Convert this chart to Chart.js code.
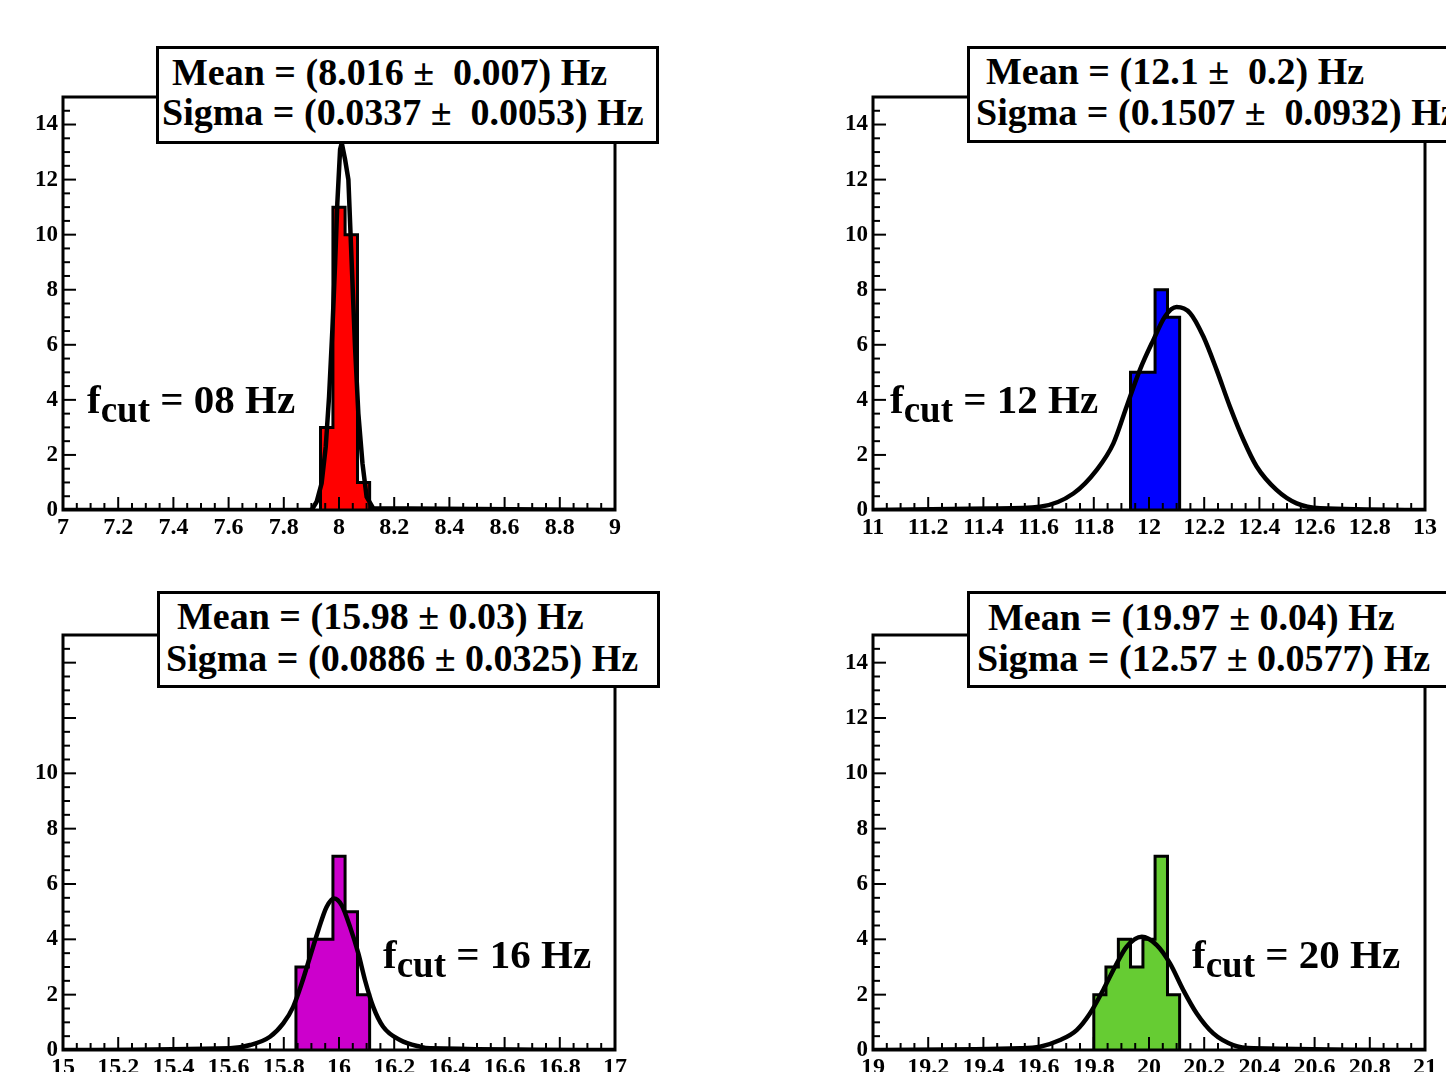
<!DOCTYPE html>
<html>
<head>
<meta charset="utf-8">
<script src="https://cdn.jsdelivr.net/npm/chart.js@4/dist/chart.umd.min.js"></script>
<style>
  body { margin: 0; width: 1446px; height: 1072px; overflow: hidden; background: #fff; position: relative; }
  canvas { position: absolute; }
  .caja { position: absolute; box-sizing: border-box; border: 3px solid #000; background: #fff; z-index: 1; }
  .texto { position: absolute; z-index: 2; white-space: pre; font-family: 'Liberation Serif', 'Times New Roman', serif; font-weight: bold; color: #000; }
  .stat { font-size: 38px; line-height: 38px; }
  .fcut { font-size: 41px; line-height: 41px; }
  .fcut .sub { font-size: 37px; position: relative; top: 9px; }
</style>
</head>
<body>

<canvas id="panel1" width="723" height="540" style="left:0px; top:0px;"></canvas>
<canvas id="panel2" width="636" height="540" style="left:810px; top:0px;"></canvas>
<canvas id="panel3" width="723" height="532" style="left:0px; top:540px;"></canvas>
<canvas id="panel4" width="636" height="532" style="left:810px; top:540px;"></canvas>

<div class="caja" style="left:156px; top:46px; width:503px; height:98px;"></div>
<div class="texto stat" style="left:172px; top:53px;">Mean = (8.016 ±  0.007) Hz</div>
<div class="texto stat" style="left:162px; top:93px;">Sigma = (0.0337 ±  0.0053) Hz</div>

<div class="caja" style="left:967px; top:46px; width:500px; height:97px;"></div>
<div class="texto stat" style="left:986px; top:52px;">Mean = (12.1 ±  0.2) Hz</div>
<div class="texto stat" style="left:976px; top:93px;">Sigma = (0.1507 ±  0.0932) Hz</div>

<div class="caja" style="left:157px; top:591px; width:503px; height:97px;"></div>
<div class="texto stat" style="left:177px; top:597px;">Mean = (15.98 ± 0.03) Hz</div>
<div class="texto stat" style="left:166px; top:639px;">Sigma = (0.0886 ± 0.0325) Hz</div>

<div class="caja" style="left:967px; top:591px; width:500px; height:97px;"></div>
<div class="texto stat" style="left:988px; top:598px;">Mean = (19.97 ± 0.04) Hz</div>
<div class="texto stat" style="left:977px; top:639px;">Sigma = (12.57 ± 0.0577) Hz</div>

<div class="texto fcut" style="left:87px; top:379px;">f<span class="sub">cut</span> = 08 Hz</div>
<div class="texto fcut" style="left:890px; top:379px;">f<span class="sub">cut</span> = 12 Hz</div>
<div class="texto fcut" style="left:383px; top:934px;">f<span class="sub">cut</span> = 16 Hz</div>
<div class="texto fcut" style="left:1192px; top:934px;">f<span class="sub">cut</span> = 20 Hz</div>

<script>
// histogram bins (edges) and counts
const bordes8 = [7.933, 7.978, 8.022, 8.067, 8.111];
const cuentas8 = [3, 11, 10, 1];
const bordes12 = [11.933, 11.978, 12.022, 12.067, 12.111];
const cuentas12 = [5, 5, 8, 7];
const bordes16 = [15.844, 15.889, 15.933, 15.978, 16.022, 16.067, 16.111];
const cuentas16 = [3, 4, 4, 7, 5, 2];
const bordes20 = [19.8, 19.844, 19.889, 19.933, 19.978, 20.022, 20.067, 20.111];
const cuentas20 = [2, 3, 4, 3, 4, 7, 2];

// gaussian fit curves
const ajusteX8 = [7.0, 7.901, 7.919, 7.937, 7.952, 7.964, 7.976, 7.986, 7.994, 8.004, 8.010, 8.022, 8.034, 8.046, 8.058, 8.070, 8.085, 8.100, 8.124, 9.0];
const ajusteY8 = [0, 0, 0.3, 0.97, 2.3, 4.12, 6.55, 8.97, 11.15, 13.1, 13.33, 12.73, 12.0, 8.97, 5.94, 3.52, 1.7, 0.48, 0.06, 0];
const ajusteX12 = [11.0, 11.424, 11.605, 11.726, 11.81, 11.871, 11.919, 11.967, 12.016, 12.058, 12.10, 12.149, 12.197, 12.245, 12.293, 12.342, 12.39, 12.462, 12.535, 12.62, 13.0];
const ajusteY12 = [0, 0.05, 0.12, 0.6, 1.45, 2.42, 3.76, 5.09, 6.18, 7.03, 7.37, 7.15, 6.30, 5.09, 3.76, 2.55, 1.58, 0.73, 0.24, 0.06, 0];
const ajusteX16 = [15.0, 15.605, 15.678, 15.75, 15.798, 15.834, 15.865, 15.895, 15.925, 15.955, 15.982, 16.01, 16.04, 16.07, 16.094, 16.124, 16.16, 16.221, 16.293, 16.33, 17.0];
const ajusteY16 = [0, 0.06, 0.18, 0.48, 0.96, 1.56, 2.41, 3.37, 4.33, 5.17, 5.48, 5.23, 4.45, 3.49, 2.53, 1.56, 0.84, 0.36, 0.12, 0.06, 0];
const ajusteX20 = [19.0, 19.533, 19.605, 19.678, 19.738, 19.786, 19.834, 19.877, 19.919, 19.974, 20.028, 20.076, 20.124, 20.173, 20.233, 20.305, 20.378, 21.0];
const ajusteY20 = [0, 0.06, 0.12, 0.36, 0.72, 1.32, 2.17, 3.01, 3.73, 4.09, 3.79, 3.13, 2.17, 1.32, 0.6, 0.18, 0.06, 0];

// axis ticks
const ejeX8 = [7, 9];
const ejeX12 = [11, 13];
const ejeX16 = [15, 17];
const ejeX20 = [19, 21];
const ejeY = [0, 15];
const pasoMayorX = 0.2, pasoMenorX = 0.05;
const pasoMayorY = 2, pasoMenorY = 0.5;

const fuenteEje = "'Liberation Serif', 'Times New Roman', serif";

function esMayor(v, paso) {
    return Math.abs(v / paso - Math.round(v / paso)) < 1e-6;
}

// ROOT-like frame with inward ticks
const marcoRoot = {
    id: 'marcoRoot',
    afterDatasetsDraw(chart) {
        const { ctx, chartArea: a, scales: { x, y } } = chart;
        ctx.save();
        ctx.strokeStyle = '#000';
        ctx.lineWidth = 2;
        x.ticks.forEach(t => {
            const px = x.getPixelForValue(t.value);
            const largo = esMayor(t.value, pasoMayorX) ? 13 : 7;
            ctx.beginPath();
            ctx.moveTo(px, a.bottom);
            ctx.lineTo(px, a.bottom - largo);
            ctx.stroke();
        });
        y.ticks.forEach(t => {
            const py = y.getPixelForValue(t.value);
            const largo = esMayor(t.value, pasoMayorY) ? 13 : 7;
            ctx.beginPath();
            ctx.moveTo(a.left, py);
            ctx.lineTo(a.left + largo, py);
            ctx.stroke();
        });
        ctx.lineWidth = 3;
        ctx.strokeRect(a.left, a.top, a.right - a.left, a.bottom - a.top);
        ctx.restore();
    }
};

function puntosHisto(bordes, cuentas) {
    const pts = [{ x: bordes[0], y: 0 }];
    cuentas.forEach((c, i) => pts.push({ x: bordes[i], y: c }));
    pts.push({ x: bordes[bordes.length - 1], y: 0 });
    return pts;
}

function crearPanel(id, cfg) {
    const datosAjuste = cfg.ajusteX.map((v, i) => ({ x: v, y: cfg.ajusteY[i] }));
    new Chart(document.getElementById(id), {
        type: 'scatter',
        data: {
            datasets: [{
                data: datosAjuste,
                showLine: true,
                borderColor: '#000',
                borderWidth: 4.5,
                pointRadius: 0,
                tension: cfg.suave ? 0.4 : 0,
                cubicInterpolationMode: cfg.suave ? 'monotone' : 'default',
                fill: false
            }, {
                data: puntosHisto(cfg.bordes, cfg.cuentas),
                showLine: true,
                stepped: true,
                borderColor: '#000',
                borderWidth: 3,
                backgroundColor: cfg.color,
                pointRadius: 0,
                fill: 'origin'
            }]
        },
        options: {
            responsive: false,
            animation: false,
            layout: { padding: { left: 0, top: cfg.arriba, right: cfg.derecha, bottom: 0 } },
            plugins: { legend: { display: false }, tooltip: { enabled: false } },
            scales: {
                x: {
                    type: 'linear',
                    min: cfg.ejeX[0],
                    max: cfg.ejeX[1],
                    grid: { display: false, drawTicks: false },
                    border: { display: false },
                    ticks: {
                        stepSize: pasoMenorX,
                        autoSkip: false,
                        maxRotation: 0,
                        padding: 3,
                        color: '#000',
                        font: { family: fuenteEje, weight: 'bold', size: 24 },
                        callback: v => esMayor(v, pasoMayorX) ? String(Math.round(v * 10) / 10) : ''
                    },
                    afterFit: s => { s.height = cfg.altoEjeX; }
                },
                y: {
                    min: ejeY[0],
                    max: ejeY[1],
                    grid: { display: false, drawTicks: false },
                    border: { display: false },
                    ticks: {
                        stepSize: pasoMenorY,
                        autoSkip: false,
                        padding: 5,
                        color: '#000',
                        font: { family: fuenteEje, weight: 'bold', size: 23 },
                        callback: v => (esMayor(v, pasoMayorY) && v <= cfg.maxEtiquetaY) ? String(v) : ''
                    },
                    afterFit: s => { s.width = 63; }
                }
            }
        },
        plugins: [marcoRoot]
    });
}

crearPanel('panel1', { bordes: bordes8, cuentas: cuentas8, ajusteX: ajusteX8, ajusteY: ajusteY8, ejeX: ejeX8,
    color: '#ff0000', suave: false, arriba: 97, derecha: 108, altoEjeX: 30, maxEtiquetaY: 14 });
crearPanel('panel2', { bordes: bordes12, cuentas: cuentas12, ajusteX: ajusteX12, ajusteY: ajusteY12, ejeX: ejeX12,
    color: '#0000ff', suave: true, arriba: 97, derecha: 21, altoEjeX: 30, maxEtiquetaY: 14 });
crearPanel('panel3', { bordes: bordes16, cuentas: cuentas16, ajusteX: ajusteX16, ajusteY: ajusteY16, ejeX: ejeX16,
    color: '#cc00cc', suave: true, arriba: 95, derecha: 108, altoEjeX: 22, maxEtiquetaY: 10 });
crearPanel('panel4', { bordes: bordes20, cuentas: cuentas20, ajusteX: ajusteX20, ajusteY: ajusteY20, ejeX: ejeX20,
    color: '#66cc33', suave: true, arriba: 95, derecha: 21, altoEjeX: 22, maxEtiquetaY: 14 });
</script>
</body>
</html>
